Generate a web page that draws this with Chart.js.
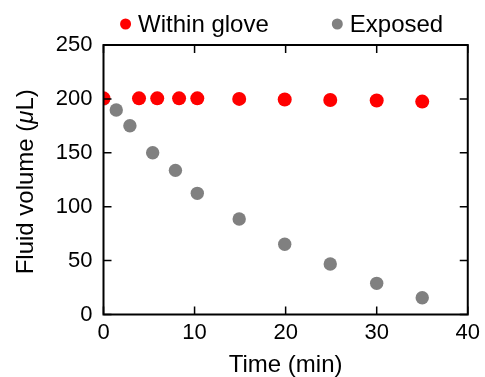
<!DOCTYPE html>
<html>
<head>
<meta charset="utf-8">
<title>Fluid volume</title>
<script src="https://cdn.jsdelivr.net/npm/chart.js@4.4.1/dist/chart.umd.min.js"></script>
<style>
  html, body { margin: 0; padding: 0; background: #fff; }
</style>
</head>
<body>
<canvas id="chart" width="485" height="377"></canvas>
<script>
// Données : temps (min) et volume de fluide (µL)
const gloveTimes = [0, 3.9, 5.9, 8.3, 10.3, 14.9, 19.9, 24.9, 30, 35];
const gloveVolumes = [200.5, 200.5, 200.5, 200.5, 200.5, 200, 199.5, 199, 198.5, 197.5];
const exposedTimes = [0, 1.4, 2.9, 5.4, 7.9, 10.3, 14.9, 19.9, 24.9, 30, 35];
const exposedVolumes = [200, 189.7, 175.1, 150, 133.7, 112.4, 88.6, 65.1, 46.8, 28.9, 15.6];

const xTicks = [0, 10, 20, 30, 40];
const yTicks = [0, 50, 100, 150, 200, 250];
const seriesLabels = ['Within glove', 'Exposed'];
const seriesColors = ['#ff0000', '#808080'];

const FONT = "'Liberation Sans', Arial, sans-serif";
Chart.defaults.font.family = FONT;
Chart.defaults.color = '#000';

function toPoints(xs, ys) {
  return xs.map((x, i) => ({ x: x, y: ys[i] }));
}

// Cadre + graduations vers l'intérieur (4 côtés)
const cadre = {
  id: 'cadre',
  afterDatasetsDraw(chart) {
    const { ctx, chartArea: a, scales: { x, y } } = chart;
    const len = 8;
    ctx.save();
    ctx.strokeStyle = '#000';
    ctx.lineWidth = 1.5;
    ctx.beginPath();
    xTicks.forEach(v => {
      const px = x.getPixelForValue(v);
      ctx.moveTo(px, a.bottom); ctx.lineTo(px, a.bottom - len);
      ctx.moveTo(px, a.top); ctx.lineTo(px, a.top + len);
    });
    yTicks.forEach(v => {
      const py = y.getPixelForValue(v);
      ctx.moveTo(a.left, py); ctx.lineTo(a.left + len, py);
      ctx.moveTo(a.right, py); ctx.lineTo(a.right - len, py);
    });
    ctx.stroke();
    ctx.lineWidth = 2;
    ctx.strokeRect(a.left, a.top, a.right - a.left, a.bottom - a.top);
    ctx.restore();
  },
  afterDraw(chart) {
    const { ctx, chartArea: a } = chart;
    ctx.save();

    // Titre de l'axe Y, avec le µ en italique
    const parts = [['Fluid volume (', 'normal'], ['\u03bc', 'italic'], ['L)', 'normal']];
    let total = 0;
    parts.forEach(p => {
      ctx.font = p[1] + ' 24px ' + FONT;
      p.push(ctx.measureText(p[0]).width);
      total += p[2];
    });
    ctx.translate(a.left - 70.5, (a.top + a.bottom) / 2 + 2);
    ctx.rotate(-Math.PI / 2);
    ctx.fillStyle = '#000';
    ctx.textBaseline = 'alphabetic';
    let cx = -total / 2;
    parts.forEach(p => {
      ctx.font = p[1] + ' 24px ' + FONT;
      ctx.fillText(p[0], cx, 0);
      cx += p[2];
    });
    ctx.restore();

    // Légende en haut, centrée sur la zone du graphique
    ctx.save();
    ctx.font = '24px ' + FONT;
    ctx.textBaseline = 'alphabetic';
    const r = 5.5, gap = 18, spacing = 63;
    const widths = seriesLabels.map(t => ctx.measureText(t).width);
    const legendW = widths.reduce((s, w) => s + gap + w, 0) + spacing * (seriesLabels.length - 1);
    let lx = (a.left + a.right) / 2 - 4 - legendW / 2;
    seriesLabels.forEach((t, i) => {
      ctx.fillStyle = seriesColors[i];
      ctx.beginPath();
      ctx.arc(lx + r, 24, r, 0, Math.PI * 2);
      ctx.fill();
      ctx.fillStyle = '#000';
      ctx.fillText(t, lx + gap, 31.7);
      lx += gap + widths[i] + spacing;
    });
    ctx.restore();
  }
};

new Chart(document.getElementById('chart'), {
  type: 'scatter',
  data: {
    datasets: [
      {
        label: seriesLabels[0],
        data: toPoints(gloveTimes, gloveVolumes),
        backgroundColor: seriesColors[0],
        pointRadius: 7,
        pointBorderWidth: 0,
        clip: 0
      },
      {
        label: seriesLabels[1],
        data: toPoints(exposedTimes, exposedVolumes),
        backgroundColor: seriesColors[1],
        pointRadius: 6.7,
        pointBorderWidth: 0,
        clip: 0
      }
    ]
  },
  options: {
    responsive: false,
    animation: false,
    layout: { padding: { top: 45, right: 13.5, left: 0, bottom: 0 } },
    plugins: {
      legend: { display: false },
      tooltip: { enabled: false }
    },
    scales: {
      x: {
        type: 'linear',
        min: 0,
        max: 40,
        afterBuildTicks: s => { s.ticks = xTicks.map(v => ({ value: v })); },
        afterFit: s => { s.height = 62.5; },
        grid: { display: false, drawTicks: false },
        border: { display: false },
        ticks: { padding: 5, color: '#000', font: { size: 22 }, maxRotation: 0 },
        title: {
          display: true,
          text: 'Time (min)',
          color: '#000',
          font: { size: 24, lineHeight: 1 },
          padding: { top: 0, bottom: 0 }
        }
      },
      y: {
        type: 'linear',
        min: 0,
        max: 250,
        afterBuildTicks: s => { s.ticks = yTicks.map(v => ({ value: v })); },
        afterFit: s => { s.width = 103.5; },
        grid: { display: false, drawTicks: false },
        border: { display: false },
        ticks: { padding: 11, color: '#000', font: { size: 22 } }
      }
    }
  },
  plugins: [cadre]
});
</script>
</body>
</html>
